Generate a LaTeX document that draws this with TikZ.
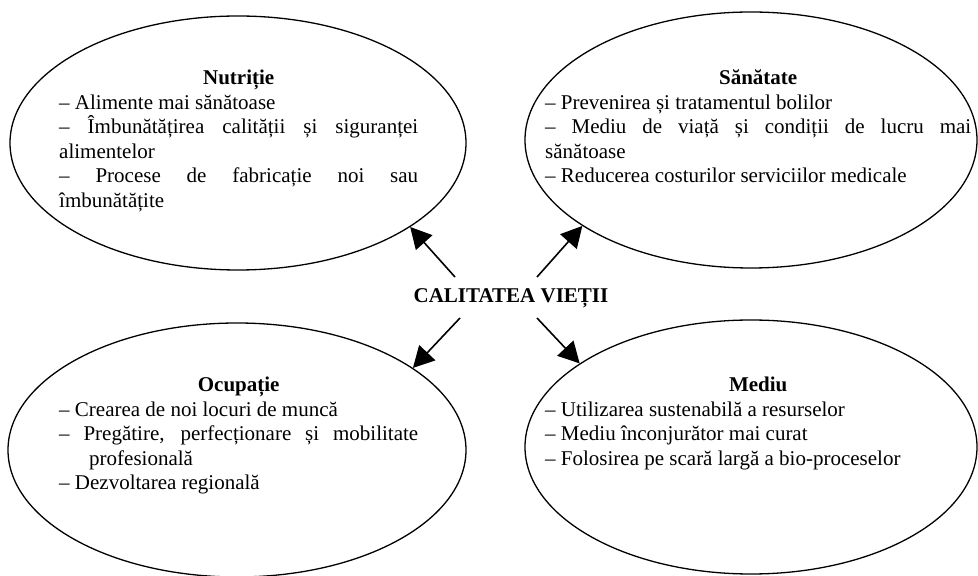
\documentclass[tikz,border=0pt]{standalone}
\usepackage{fontspec}
\setmainfont{Liberation Serif}
\usetikzlibrary{shapes.geometric,arrows.meta}
\hyphenpenalty=10000
\exhyphenpenalty=10000
\tolerance=10000
\begin{document}
\begin{tikzpicture}[x=1pt,y=1pt,
  oval/.style={draw,ellipse,line width=1.3pt,inner sep=0pt},
  txt/.style={anchor=base west,inner sep=0pt,text width=#1,align=justify,
    font=\fontsize{21}{24.5}\selectfont},
  ttl/.style={font=\bfseries\fontsize{21}{24.5}\selectfont,anchor=base,inner sep=0pt},
  arr/.style={line width=1.6pt,-{Triangle[length=21pt,width=22pt]}}]
\useasboundingbox (0,0) rectangle (978,576);
\clip (0,0) rectangle (978,576);
\fill[white] (0,0) rectangle (978,576);
% ellipses
\node[oval,minimum width=456,minimum height=254] (nut) at (238,433) {};
\node[oval,minimum width=452,minimum height=256] (san) at (751,436) {};
\node[oval,minimum width=458,minimum height=254] (ocu) at (237,126) {};
\node[oval,minimum width=452,minimum height=254] (med) at (751,129) {};
% texts
\node[txt=359pt] (tnut) at (59,491) {{\centering\bfseries Nutriție\par}
– Alimente mai sănătoase\par
– Îmbunătățirea calității și siguranței\linebreak alimentelor\par
– Procese de fabricație noi sau\linebreak îmbunătățite};
\node[txt=426pt] (tsan) at (545,491) {{\centering\bfseries Sănătate\par}
– Prevenirea și tratamentul bolilor\par
– Mediu de viață și condiții de lucru mai\linebreak sănătoase\par
– Reducerea costurilor serviciilor medicale};
\node[txt=359pt] (tocu) at (59,184) {{\centering\bfseries Ocupație\par}
– Crearea de noi locuri de muncă\par
– Pregătire, perfecționare și mobilitate\linebreak\hspace*{30pt}profesională\par
– Dezvoltarea regională};
\node[txt=426pt] (tmed) at (545,184) {{\centering\bfseries Mediu\par}
– Utilizarea sustenabilă a resurselor\par
– Mediu înconjurător mai curat\par
– Folosirea pe scară largă a bio-proceselor};
% centre
\node[ttl] (cv) at (511,273) {CALITATEA VIEȚII};
\coordinate (s1) at (455,299);
\coordinate (s2) at (537,299);
\coordinate (s3) at (460,258);
\coordinate (s4) at (537,258);
\draw[arr] (s1) -- (nut.-26);
\draw[arr] (s2) -- (san.-153);
\draw[arr] (s3) -- (ocu.25);
\draw[arr] (s4) -- (med.154);
\end{tikzpicture}
\end{document}
